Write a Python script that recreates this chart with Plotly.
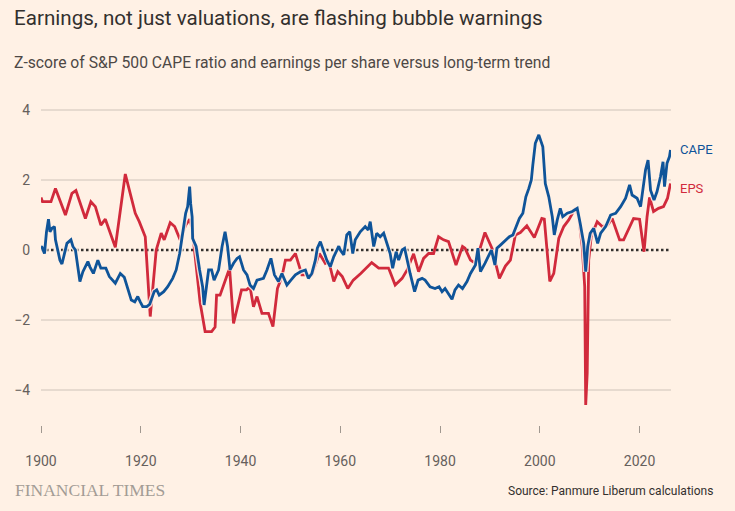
import plotly.graph_objects as go

# ---- data ----
eps_year = [1900.0, 1900.3, 1902.0, 1902.9, 1904.9, 1906.2, 1907.0, 1908.9, 1910.0, 1910.9,
            1912.0, 1912.9, 1914.9, 1916.9, 1918.9, 1919.7, 1920.9, 1921.9, 1923.1, 1924.1,
            1924.7, 1925.9, 1926.8, 1927.9, 1929.0, 1929.8, 1930.3, 1931.9, 1932.9, 1934.2,
            1934.9, 1935.2, 1935.9, 1937.8, 1938.6, 1940.2, 1941.2, 1941.9, 1942.6, 1943.3,
            1944.3, 1945.6, 1946.5, 1947.4, 1948.3, 1949.0, 1950.0, 1951.0, 1952.0, 1952.3,
            1954.3, 1955.8, 1957.0, 1957.7, 1958.7, 1959.5, 1960.4, 1961.5, 1962.6, 1964.1,
            1966.3, 1967.7, 1969.7, 1971.0, 1972.4, 1973.4, 1974.7, 1975.7, 1976.7, 1977.7,
            1978.7, 1979.7, 1980.7, 1981.7, 1983.2, 1984.5, 1985.0, 1986.1, 1987.1, 1988.1,
            1989.0, 1990.4, 1991.9, 1993.1, 1994.1, 1995.1, 1996.1, 1997.4, 1998.9, 2000.4,
            2000.9, 2002.0, 2002.8, 2003.8, 2004.8, 2005.8, 2007.1, 2007.8, 2008.5, 2009.0,
            2009.2, 2009.5, 2009.8, 2010.3, 2011.5, 2012.5, 2013.6, 2014.5, 2016.0, 2016.8,
            2017.8, 2018.8, 2020.0, 2020.9, 2021.5, 2022.0, 2022.8, 2023.8, 2024.8, 2025.6,
            2026.2]
eps_z = [1.5, 1.38, 1.38, 1.76, 1.0, 1.62, 1.7, 0.9, 1.38, 1.24,
         0.71, 0.88, 0.08, 2.17, 1.05, 0.81, 0.38, -1.9, 0.0, 0.48,
         0.29, 0.78, 0.67, 0.29, 0.71, 0.88, 0.62, -1.5, -2.33, -2.33,
         -2.2, -1.29, -1.29, -0.52, -2.1, -1.14, -1.14, -1.05, -1.62, -1.33,
         -1.81, -1.81, -2.19, -1.1, -0.76, -0.29, -0.29, -0.1, -0.57, -0.71,
         -0.71, -0.1, -0.38, -0.33, -0.9, -0.62, -0.76, -1.1, -0.86, -0.67,
         -0.36, -0.52, -0.52, -1.0, -0.81, -0.57, -0.11, -0.62, -0.24, -0.1,
         -0.1, 0.38, 0.29, 0.24, -0.43, 0.1, 0.05, -0.29, -0.38, 0.1,
         0.5, 0.05, -0.81, -0.46, -0.29, 0.43, 0.5, 0.69, 0.36, 0.9,
         0.88, -0.9, -0.67, 0.33, 0.67, 0.86, 1.19, 0.95, 0.1, -1.05,
         -4.43, -3.52, -0.29, 0.38, 0.81, 0.67, 0.71, 0.9, 0.29, 0.29,
         0.62, 0.9, 0.88, -0.05, 0.95, 1.5, 1.1, 1.19, 1.24, 1.48,
         1.9]

cape_year = [1900.0, 1900.2, 1900.7, 1901.1, 1901.5, 1901.8, 1902.2, 1902.7, 1902.9, 1903.3,
             1903.8, 1904.2, 1904.7, 1905.2, 1906.0, 1906.4, 1906.9, 1907.4, 1907.8, 1908.4,
             1909.4, 1909.8, 1910.5, 1911.4, 1912.0, 1913.0, 1913.7, 1914.9, 1915.9, 1916.7,
             1917.4, 1918.1, 1918.8, 1919.4, 1919.9, 1920.4, 1921.2, 1921.8, 1922.7, 1923.2,
             1923.7, 1924.6, 1925.4, 1926.4, 1927.1, 1927.8, 1928.4, 1929.0, 1929.4, 1929.8,
             1930.0, 1930.3, 1930.4, 1931.1, 1931.8, 1932.4, 1932.7, 1933.2, 1933.6, 1934.2,
             1934.7, 1935.6, 1936.3, 1936.9, 1937.4, 1937.9, 1938.6, 1939.3, 1939.8, 1940.6,
             1941.3, 1941.9, 1942.6, 1943.3, 1944.6, 1945.3, 1946.1, 1946.8, 1947.6, 1948.3,
             1949.3, 1950.1, 1951.0, 1952.0, 1953.0, 1953.6, 1954.3, 1955.0, 1955.4, 1956.0,
             1956.6, 1957.3, 1958.0, 1958.7, 1959.7, 1960.0, 1960.7, 1961.3, 1961.9, 1962.5,
             1963.0, 1964.0, 1965.0, 1965.6, 1966.0, 1966.7, 1967.3, 1968.0, 1968.7, 1969.3,
             1970.0, 1970.5, 1971.2, 1971.7, 1972.4, 1972.9, 1973.4, 1974.0, 1974.9, 1975.6,
             1976.4, 1977.0, 1978.0, 1979.0, 1979.8, 1980.4, 1981.0, 1981.7, 1982.4, 1983.0,
             1983.7, 1984.5, 1985.4, 1986.1, 1987.1, 1987.6, 1988.1, 1989.0, 1989.7, 1990.3,
             1991.0, 1991.4, 1992.1, 1993.1, 1993.9, 1994.6, 1995.2, 1995.9, 1996.6, 1997.2,
             1997.8, 1998.3, 1998.6, 1999.1, 1999.8, 2000.2, 2000.6, 2001.1, 2001.8, 2002.5,
             2002.9, 2003.5, 2004.1, 2004.6, 2005.5, 2006.5, 2007.5, 2008.1, 2008.8, 2009.2,
             2009.6, 2010.1, 2010.8, 2011.6, 2012.2, 2013.2, 2014.2, 2015.2, 2016.2, 2017.2,
             2018.0, 2018.5, 2019.5, 2020.2, 2020.5, 2021.2, 2021.7, 2022.2, 2022.9, 2023.5,
             2024.2, 2024.7, 2025.0, 2025.5, 2026.0, 2026.2]
cape_z = [0.1, 0.08, -0.1, 0.52, 0.88, 0.52, 0.62, 0.67, 0.29, 0.05,
          -0.29, -0.4, -0.14, 0.19, 0.29, 0.1, 0.0, -0.48, -0.9, -0.62,
          -0.33, -0.48, -0.67, -0.29, -0.52, -0.52, -0.76, -0.95, -0.67, -0.78,
          -1.1, -1.43, -1.48, -1.33, -1.48, -1.62, -1.62, -1.55, -1.19, -1.14,
          -1.29, -1.19, -1.05, -0.81, -0.57, -0.1, 0.48, 1.05, 1.24, 1.81,
          1.33, 0.95, 0.33, 0.1, -0.57, -1.05, -1.57, -0.95, -0.57, -0.57,
          -0.86, -0.57, 0.1, 0.52, 0.1, -0.57, -0.38, -0.24, -0.19, -0.57,
          -0.71, -1.0, -1.1, -0.86, -0.81, -0.57, -0.24, -0.71, -0.9, -0.67,
          -1.0, -0.86, -0.71, -0.62, -0.57, -0.81, -0.67, -0.29, 0.05, 0.24,
          0.0, -0.29, -0.48, -0.19, 0.11, 0.0, -0.14, 0.43, 0.52, -0.1,
          0.29, 0.52, 0.67, 0.57, 0.81, 0.1, 0.48, 0.38, 0.48, 0.19,
          -0.1, -0.52, -0.05, -0.29, 0.0, 0.05, -0.29, -0.67, -1.19, -0.86,
          -0.81, -0.86, -1.05, -1.1, -1.05, -1.19, -1.1, -1.24, -1.41, -1.14,
          -1.0, -1.1, -0.9, -0.67, -0.43, 0.05, -0.62, -0.38, -0.19, 0.0,
          -0.43, 0.05, 0.14, 0.29, 0.38, 0.43, 0.67, 0.9, 1.05, 1.52,
          1.76, 2.0, 2.43, 3.05, 3.29, 3.14, 2.95, 1.9, 1.52, 0.95,
          0.43, 0.86, 1.19, 0.95, 1.05, 1.1, 1.19, 0.76, 0.19, -0.62,
          0.1, 0.48, 0.62, 0.19, 0.48, 0.67, 1.0, 1.05, 1.24, 1.48,
          1.86, 1.57, 1.48, 1.24, 1.57, 2.29, 2.57, 1.71, 1.43, 1.67,
          2.1, 2.52, 1.81, 2.48, 2.67, 2.86]

x_ticks = [1900, 1920, 1940, 1960, 1980, 2000, 2020]
y_ticks = [-4, -2, 0, 2, 4]
grid_vals = [-4, -2, 2, 4]

BG = "#fff1e5"
BLUE = "#0f5499"
RED = "#d12a3c"
TXT = "#33302e"
TICK = "#66605c"
GRID = "#cec3b9"

fig = go.Figure()
fig.add_trace(go.Scatter(x=eps_year, y=eps_z, mode="lines", name="EPS",
                         line=dict(color=RED, width=2.8), hoverinfo="skip"))
fig.add_trace(go.Scatter(x=cape_year, y=cape_z, mode="lines", showlegend=False,
                         line=dict(color="rgba(255,241,229,0.85)", width=5.5), hoverinfo="skip"))
fig.add_trace(go.Scatter(x=cape_year, y=cape_z, mode="lines", name="CAPE",
                         line=dict(color=BLUE, width=2.8), hoverinfo="skip"))

# gridlines (all but zero) and dotted zero line
for g in grid_vals:
    fig.add_shape(type="line", xref="paper", x0=0, x1=1, yref="y", y0=g, y1=g,
                  line=dict(color=GRID, width=1), layer="below")
fig.add_shape(type="line", xref="paper", x0=0, x1=1, yref="y", y0=0, y1=0,
              line=dict(color=TXT, width=2.5, dash="2.5px,2.5px"), layer="between")

fig.update_layout(
    width=735, height=511,
    margin=dict(l=41, r=64, t=100, b=86),
    paper_bgcolor=BG, plot_bgcolor=BG,
    showlegend=False,
    font=dict(family="Roboto", color=TICK),
    xaxis=dict(range=[1900, 2026.3], tickvals=x_ticks, ticks="outside", ticklen=7,
               tickcolor="#a09890", tickwidth=1, showgrid=False, zeroline=False,
               showline=False, tickfont=dict(size=14, color=TICK),
               ticklabelstandoff=16, fixedrange=True),
    yaxis=dict(range=[-5, 4.2857], tickvals=y_ticks, showgrid=False,
               zeroline=False, showline=False,
               tickfont=dict(size=14, color=TICK), ticks="", ticklabelstandoff=10,
               fixedrange=True),
)

def px_x(px):
    return (px - 41) / 630.0

def px_y(py):
    return (425 - py) / 325.0

fig.add_annotation(text="Earnings, not just valuations, are flashing bubble warnings",
                   xref="paper", yref="paper", x=px_x(12), y=px_y(18), xanchor="left",
                   yanchor="middle", showarrow=False,
                   font=dict(family="Roboto", size=20.6, color=TXT))
fig.add_annotation(text="Z-score of S&P 500 CAPE ratio and earnings per share versus long-term trend",
                   xref="paper", yref="paper", x=px_x(12), y=px_y(63), xanchor="left",
                   yanchor="middle", showarrow=False,
                   font=dict(family="Roboto", size=15.7, color="#4d4845"))
fig.add_annotation(text="FINANCIAL TIMES", xref="paper", yref="paper", x=px_x(13), y=px_y(490),
                   xanchor="left", yanchor="middle", showarrow=False,
                   font=dict(family="Liberation Serif", size=17.5, color="#a39c95"))
fig.add_annotation(text="Source: Panmure Liberum calculations", xref="paper", yref="paper",
                   x=px_x(715), y=px_y(491), xanchor="right", yanchor="middle", showarrow=False,
                   font=dict(family="Roboto", size=12, color=TXT))
fig.add_annotation(text="CAPE", xref="paper", yref="y", x=px_x(678), y=2.86, xanchor="left",
                   yanchor="middle", showarrow=False, font=dict(family="Roboto", size=13, color=BLUE))
fig.add_annotation(text="EPS", xref="paper", yref="y", x=px_x(678), y=1.77, xanchor="left",
                   yanchor="middle", showarrow=False, font=dict(family="Roboto", size=13, color=RED))

fig.write_html("out.html")
